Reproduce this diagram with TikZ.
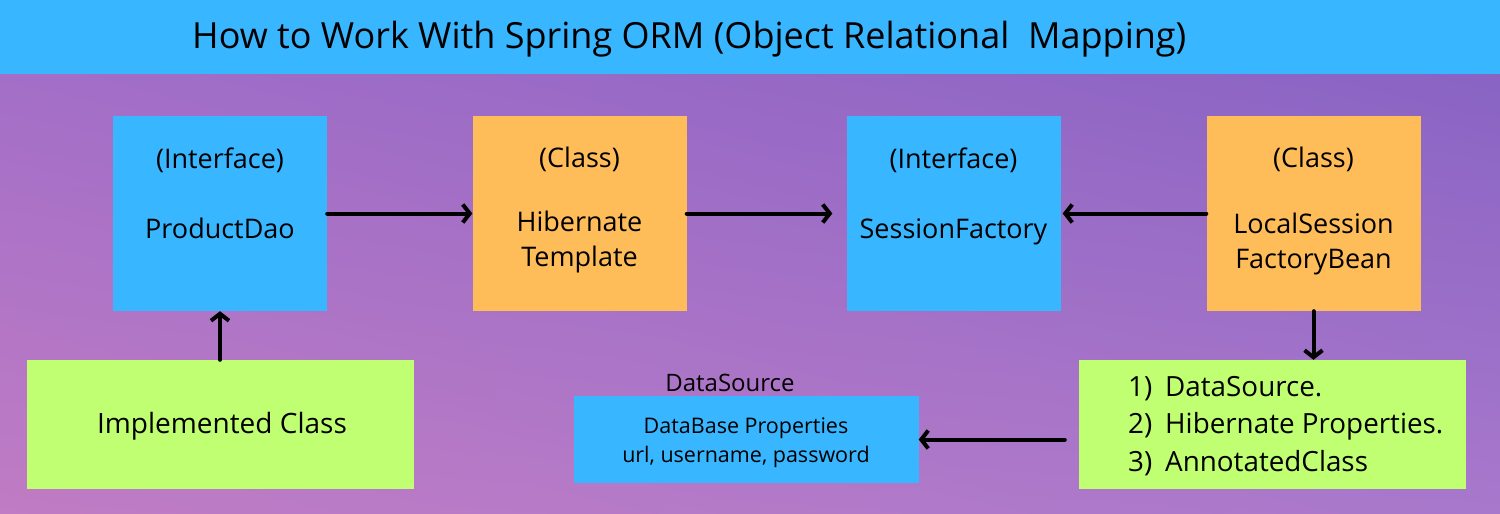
\documentclass[tikz,border=0pt]{standalone}
\usepackage{fontspec}
\setmainfont{Open Sans}
\usetikzlibrary{arrows.meta,positioning,shadings}

\definecolor{skyblue}{HTML}{38B6FF}
\definecolor{peach}{HTML}{FFBD59}
\definecolor{lime}{HTML}{C1FF72}
\definecolor{bgtl}{RGB}{158,108,200}
\definecolor{bgtr}{RGB}{132,96,194}
\definecolor{bgbl}{RGB}{192,124,196}
\definecolor{bgbr}{RGB}{168,120,204}

\tikzset{
  card/.style={rectangle, inner sep=0pt, minimum width=214pt, minimum height=195pt},
  wide/.style={rectangle, inner sep=0pt, fill=lime, minimum width=387pt, minimum height=129pt},
  txt/.style={anchor=base, inner sep=0pt, font=\fontsize{27}{30}\selectfont},
  link/.style={line width=4pt, line cap=round, -{Straight Barb[length=7pt,width=18pt]}}
}

\begin{document}
\begin{tikzpicture}[x=1pt, y=-1pt]
  \useasboundingbox (0,0) rectangle (1500,514);
  % background
  \shade[upper left=bgtl, upper right=bgtr, lower left=bgbl, lower right=bgbr]
    (0,0) rectangle (1500,514);
  \fill[skyblue] (0,0) rectangle (1500,74);
  \node[anchor=base west, inner sep=0pt, font=\fontsize{36}{40}\selectfont] (title) at (192,48)
    {How to Work With Spring ORM (Object Relational\ \ Mapping)};

  % top row
  \node[card, fill=skyblue] (dao) at (220,213.5) {};
  \node[card, fill=peach] (tmpl) at (579.5,213.5) {};
  \node[card, fill=skyblue] (sess) at (953.5,213.5) {};
  \node[card, fill=peach] (lsfb) at (1313.5,213.5) {};

  \node[txt] at (220,168) {(Interface)};
  \node[txt] at (220,238) {ProductDao};
  \node[txt] at (579.5,167) {(Class)};
  \node[txt] at (579.5,231) {Hibernate};
  \node[txt] at (579.5,266) {Template};
  \node[txt] at (953.5,168) {(Interface)};
  \node[txt] at (953.5,238) {SessionFactory};
  \node[txt] at (1313.5,167) {(Class)};
  \node[txt] at (1313.5,233) {LocalSession};
  \node[txt] at (1313.5,268) {FactoryBean};

  % bottom row
  \node[wide] (impl) at (220,424.5) {};
  \node[txt, font=\fontsize{28}{30}\selectfont] at (222,433) {Implemented Class};

  \node[rectangle, inner sep=0pt, fill=skyblue, minimum width=345pt, minimum height=87pt] (dsrc) at (746,439.5) {};
  \node[txt, font=\fontsize{24}{26}\selectfont] at (730,391) {DataSource};
  \node[txt, font=\fontsize{21.5}{24}\selectfont] at (746,433) {DataBase Properties};
  \node[txt, font=\fontsize{21.5}{24}\selectfont] at (746,462) {url, username, password};

  \node[wide] (props) at (1272.5,424.5) {};
  \foreach \n/\item/\y in {1/DataSource./396, 2/Hibernate Properties./433, 3/AnnotatedClass/471} {
    \node[txt, anchor=base west, font=\fontsize{27.8}{30}\selectfont] at (1128,\y) {\n)};
    \node[txt, anchor=base west, font=\fontsize{27.8}{30}\selectfont] at (1165,\y) {\item};
  }

  % arrows
  \coordinate (src) at ([xshift=-14pt]props.west);
  \draw[link] (dao.east) -- (tmpl.west);
  \draw[link] (tmpl.east) -- ([xshift=-14pt]sess.west);
  \draw[link] (lsfb.west) -- ([xshift=2pt]sess.east);
  \draw[link] (impl.north) -- (dao.south);
  \draw[link] (lsfb.south) -- (props.north -| lsfb.south);
  \draw[link] (src |- dsrc.east) -- (dsrc.east);
\end{tikzpicture}
\end{document}
